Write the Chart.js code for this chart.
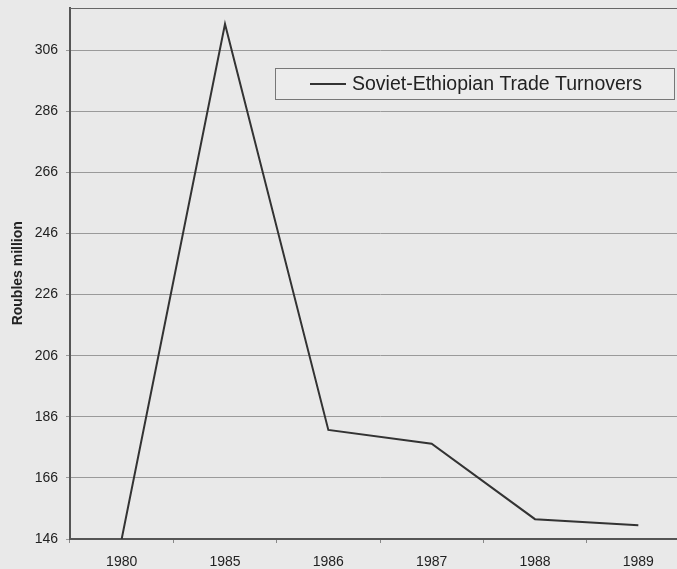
<!DOCTYPE html>
<html>
<head>
<meta charset="utf-8">
<script src="https://cdn.jsdelivr.net/npm/chart.js@4/dist/chart.umd.min.js"></script>
<style>
html,body{margin:0;padding:0;background:#e9e9e9;overflow:hidden;}
#wrap{position:relative;width:690px;height:569px;}
</style>
</head>
<body>
<div id="wrap"><canvas id="c"></canvas></div>
<script>
const years = ['1980','1985','1986','1987','1988','1989'];
const turnover = [146, 314.6, 181.7, 177.2, 152.5, 150.5];
const yTicks = [146,166,186,206,226,246,266,286,306];
const seriesLabel = 'Soviet-Ethiopian Trade Turnovers';
const yTitle = 'Roubles million';
const FONT = '"Liberation Sans", Arial, sans-serif';

const boxLegend = {
  id:'boxLegend',
  afterDraw(chart){
    const ctx = chart.ctx;
    ctx.save();
    ctx.fillStyle = '#ececec';
    ctx.fillRect(275.5,68.5,399,31);
    ctx.strokeStyle = '#777';
    ctx.lineWidth = 1;
    ctx.strokeRect(275.5,68.5,399,31);
    ctx.strokeStyle = '#333';
    ctx.lineWidth = 2;
    ctx.beginPath(); ctx.moveTo(310,84); ctx.lineTo(346,84); ctx.stroke();
    ctx.fillStyle = '#222';
    ctx.font = '19.5px ' + FONT;
    ctx.textBaseline = 'middle';
    ctx.fillText(seriesLabel, 352, 85);
    ctx.restore();
  },
  beforeDatasetsDraw(chart){
    const a = chart.chartArea, ctx = chart.ctx;
    ctx.save();
    ctx.strokeStyle = '#666';
    ctx.lineWidth = 1;
    ctx.beginPath();
    ctx.moveTo(a.left, Math.round(a.top)+0.5);
    ctx.lineTo(a.right, Math.round(a.top)+0.5);
    ctx.stroke();
    ctx.restore();
  }
};

new Chart(document.getElementById('c'), {
  type:'line',
  data:{labels:years, datasets:[{label:seriesLabel, data:turnover, borderColor:'#333', borderWidth:2, pointRadius:0, tension:0, fill:false}]},
  options:{
    responsive:true, maintainAspectRatio:false, animation:false,
    layout:{padding:{top:7.5, right:0, bottom:0, left:10}},
    plugins:{legend:{display:false}, tooltip:{enabled:false}},
    scales:{
      x:{
        offset:true,
        afterFit(scale){ scale.height = 30; scale.paddingLeft = 0; scale.paddingRight = 0; },
        grid:{display:true, offset:true, drawOnChartArea:false, drawTicks:true, tickLength:4, color:'#888'},
        border:{display:true, color:'#555', width:2},
        ticks:{color:'#222', font:{family:FONT, size:14}, padding:11, maxRotation:0}
      },
      y:{
        min:146, max:320,
        afterFit(scale){ scale.width = 60; scale.paddingTop = 0; scale.paddingBottom = 0; },
        afterBuildTicks(scale){ scale.ticks = yTicks.map(v=>({value:v})); },
        grid:{color:'#9a9a9a', lineWidth:1, tickLength:4},
        border:{display:true, color:'#555', width:2},
        ticks:{color:'#222', font:{family:FONT, size:14}, padding:8},
        title:{display:true, text:yTitle, color:'#222', font:{family:FONT, size:14, weight:'bold'}, padding:{top:0,bottom:7}}
      }
    }
  },
  plugins:[boxLegend]
});
</script>
</body>
</html>
